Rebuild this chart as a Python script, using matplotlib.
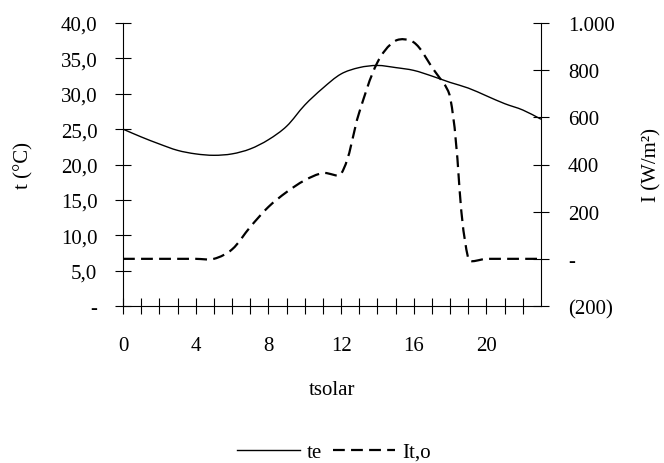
import numpy as np
import matplotlib
matplotlib.use('Agg')
import matplotlib.pyplot as plt
from matplotlib.path import Path
from matplotlib.patches import PathPatch
from matplotlib.lines import Line2D

# hourly values
hours = list(range(24))
te = [25.0, 23.9, 22.9, 22.0, 21.5, 21.3, 21.5, 22.2, 23.5, 25.4, 28.4, 30.8,
      32.8, 33.7, 34.0, 33.7, 33.3, 32.5, 31.6, 30.8, 29.7, 28.6, 27.7, 26.4]
it_o = [0, 0, 0, 0, 0, 0, 40, 135, 220, 283, 333, 364,
        360, 621, 833, 925, 918, 812, 685, 0, 0, 0, 0, 0]

left_ticks = [0, 5, 10, 15, 20, 25, 30, 35, 40]
left_labels = ['-', '5,0', '10,0', '15,0', '20,0', '25,0', '30,0', '35,0', '40,0']
right_ticks = [-200, 0, 200, 400, 600, 800, 1000]
right_labels = ['(200)', '-', '200', '400', '600', '800', '1.000']
x_label_every = 4

plt.rcParams['font.family'] = ['Liberation Serif', 'DejaVu Serif']
plt.rcParams['lines.scale_dashes'] = False
fs = 15


def smooth_path(ax, xs, ys):
    # Excel-style smoothed line: bezier segments, tangents weighted by segment length
    pts = np.column_stack([xs, ys]).astype(float)
    disp = ax.transData.transform(pts)
    n = len(pts)
    verts = [pts[0]]
    codes = [Path.MOVETO]
    for i in range(n - 1):
        p0 = pts[max(i - 1, 0)]
        p1 = pts[i]
        p2 = pts[i + 1]
        p3 = pts[min(i + 2, n - 1)]
        d0 = np.hypot(*(disp[i] - disp[max(i - 1, 0)]))
        d1 = np.hypot(*(disp[i + 1] - disp[i]))
        d2 = np.hypot(*(disp[min(i + 2, n - 1)] - disp[i + 1]))
        w1 = d1 / (d0 + d1) / 3 if d0 + d1 > 0 else 0
        w2 = d1 / (d1 + d2) / 3 if d1 + d2 > 0 else 0
        c1 = p1 + (p2 - p0) * w1
        c2 = p2 - (p3 - p1) * w2
        verts += [c1, c2, p2]
        codes += [Path.CURVE4] * 3
    return Path(verts, codes)


fig = plt.figure(figsize=(6.64, 4.64), dpi=100)
ax = fig.add_axes([123 / 664, 157 / 464, 418 / 664, 283 / 464])
ax2 = ax.twinx()

ax.set_xlim(0, 23)
ax.set_ylim(0, 40)
ax2.set_ylim(-200, 1000)

p1 = smooth_path(ax, hours, te)
ax.add_patch(PathPatch(p1, facecolor='none', edgecolor='black', lw=1.0))
p2 = smooth_path(ax2, hours, it_o)
ax2.add_patch(PathPatch(p2, facecolor='none', edgecolor='black', lw=1.6,
                        linestyle=(0, (8.5, 4.5))))

for a in (ax, ax2):
    a.spines['top'].set_visible(False)
    for s in a.spines.values():
        s.set_linewidth(0.8)
ax.spines['right'].set_visible(False)
ax2.spines['left'].set_visible(False)
ax2.spines['bottom'].set_visible(False)

ax.set_yticks(left_ticks)
ax.set_yticklabels(left_labels)
ax2.set_yticks(right_ticks)
ax2.set_yticklabels(right_labels)
ax.set_xticks(hours[:-1])
ax.set_xticklabels([str(h) if h % x_label_every == 0 else '' for h in hours[:-1]])

ax.tick_params(axis='y', direction='inout', length=11, width=0.8, pad=13, labelsize=fs)
ax.tick_params(axis='x', direction='inout', length=11, width=0.8, pad=16, labelsize=fs)
ax2.tick_params(axis='y', direction='inout', length=11, width=0.8, pad=14, labelsize=fs)

ax.set_xlabel('tsolar', fontsize=fs)
ax.set_ylabel('t (°C)', fontsize=fs)
ax2.set_ylabel('I (W/m²)', fontsize=fs)
ax.xaxis.set_label_coords(0.5, -0.26)
ax.yaxis.set_label_coords(-0.215, 0.5)
ax2.yaxis.set_label_coords(1.2416, 0.5)

handles = [Line2D([], [], color='black', lw=1.0),
           Line2D([], [], color='black', lw=1.6, linestyle=(0, (8.5, 4.5)))]
fig.legend(handles, ['te', 'It,o'], loc='center', ncol=2, frameon=False,
           bbox_to_anchor=(334 / 664, 1 - 453 / 464), fontsize=fs,
           handlelength=3.0, handletextpad=0.35, columnspacing=0.5)

fig.savefig('out.png', dpi=100)
